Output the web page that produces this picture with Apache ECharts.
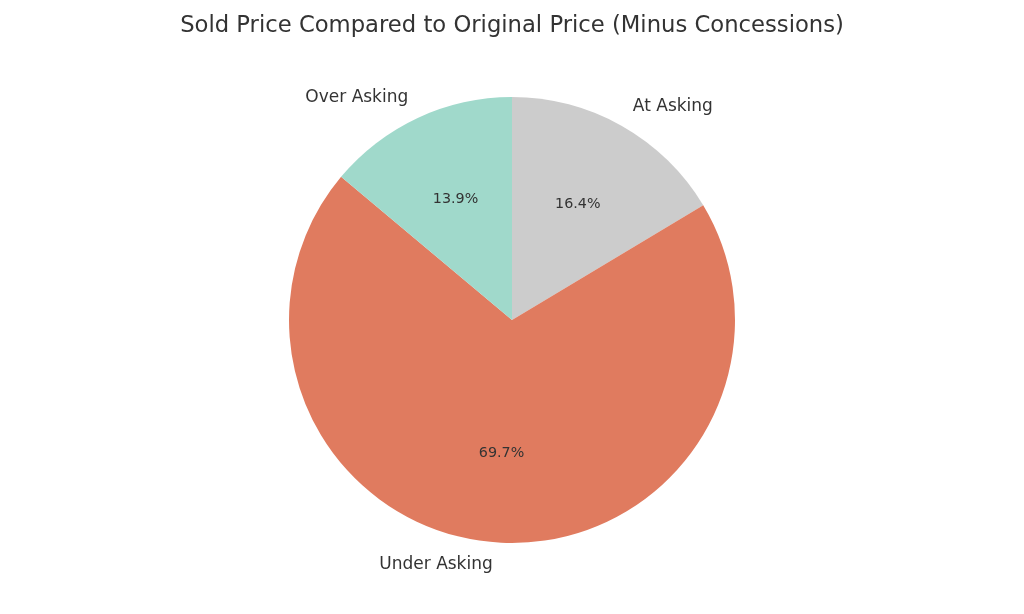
<!DOCTYPE html>
<html>
<head>
<meta charset="utf-8">
<script src="https://cdn.jsdelivr.net/npm/echarts@6/dist/echarts.min.js"></script>
<style>html,body{margin:0;padding:0;background:#fff;}#c{width:1024px;height:614px;}</style>
</head>
<body>
<div id="c"></div>
<script>
const titleText = 'Sold Price Compared to Original Price (Minus Concessions)';
const categories = ['At Asking', 'Under Asking', 'Over Asking'];
const values = [16.4, 69.7, 13.9];
const colors = ['#cccccc', '#e07b5f', '#a0d9cb'];

const R = 223;
const font = 'DejaVu Sans, sans-serif';
const data = categories.map((c, i) => ({ name: c, value: values[i], itemStyle: { color: colors[i] } }));

const chart = echarts.init(document.getElementById('c'), null, { renderer: 'canvas' });
chart.setOption({
  animation: false,
  backgroundColor: '#ffffff',
  title: {
    text: titleText,
    left: 'center',
    top: 10,
    textStyle: { fontFamily: font, fontSize: 22.7, fontWeight: 'normal', color: '#333333' }
  },
  series: [
    {
      type: 'pie',
      center: [512, 320],
      radius: [0, R],
      startAngle: 90,
      clockwise: true,
      avoidLabelOverlap: false,
      silent: true,
      data: data,
      label: {
        show: true,
        position: 'outside',
        formatter: '{b}',
        fontFamily: font,
        fontSize: 17,
        color: '#333333',
        distanceToLabelLine: 0
      },
      labelLine: { show: false, length: R * 0.1, length2: 0 },
      emphasis: { disabled: true }
    },
    {
      type: 'pie',
      center: [512, 320],
      radius: [R * 0.17, R],
      startAngle: 90,
      clockwise: true,
      avoidLabelOverlap: false,
      silent: true,
      data: categories.map((c, i) => ({ name: c, value: values[i] })),
      itemStyle: { color: 'rgba(0,0,0,0)' },
      label: {
        show: true,
        position: 'inside',
        formatter: p => p.value.toFixed(1) + '%',
        fontFamily: font,
        fontSize: 14.3,
        color: '#333333'
      },
      labelLine: { show: false },
      emphasis: { disabled: true }
    }
  ]
});
</script>
</body>
</html>
